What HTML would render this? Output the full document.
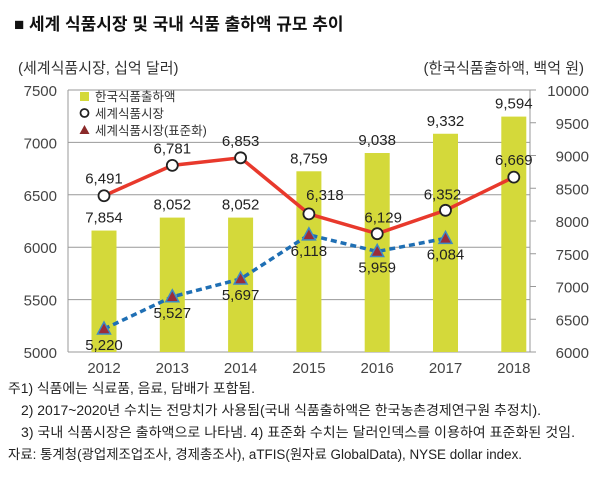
<!DOCTYPE html>
<html><head><meta charset="utf-8"><style>
body{margin:0;background:#fff;}
svg{display:block;font-family:"Liberation Sans","Noto Sans CJK KR",sans-serif;}
</style></head><body>
<svg id="c" width="600" height="477" viewBox="0 0 600 477">
<text x="14" y="30" font-size="17" font-weight="bold" fill="#111">■ 세계 식품시장 및 국내 식품 출하액 규모 추이</text>
<text x="18" y="73" font-size="15" fill="#333">(세계식품시장, 십억 달러)</text>
<text x="584" y="73" font-size="15" fill="#333" text-anchor="end">(한국식품출하액, 백억 원)</text>
<g id="grid"></g><g id="bars"></g><g id="lines"></g><g id="labels"></g>
<g>
<rect x="80" y="92" width="9" height="9" fill="#d4d93a"/>
<text x="95" y="101" font-size="12.5" fill="#333">한국식품출하액</text>
<circle cx="84.5" cy="113" r="4" fill="#fff" stroke="#222" stroke-width="1.8"/>
<text x="95" y="118" font-size="12.5" fill="#333">세계식품시장</text>
<polygon points="84.5,125 89.5,134 79.5,134" fill="#8b2a2a"/>
<text x="95" y="135" font-size="12.5" fill="#333">세계식품시장(표준화)</text>
</g>
<g font-size="13.5" fill="#222">
<text x="8" y="393" textLength="247" lengthAdjust="spacingAndGlyphs">주1) 식품에는 식료품, 음료, 담배가 포함됨.</text>
<text x="21" y="415" textLength="520" lengthAdjust="spacingAndGlyphs">2) 2017~2020년 수치는 전망치가 사용됨(국내 식품출하액은 한국농촌경제연구원 추정치).</text>
<text x="21" y="437" textLength="554" lengthAdjust="spacingAndGlyphs">3) 국내 식품시장은 출하액으로 나타냄. 4) 표준화 수치는 달러인덱스를 이용하여 표준화된 것임.</text>
<text x="8" y="459" textLength="514" lengthAdjust="spacingAndGlyphs">자료: 통계청(광업제조업조사, 경제총조사), aTFIS(원자료 GlobalData), NYSE dollar index.</text>
</g>
</svg>
<script>
const years=["2012","2013","2014","2015","2016","2017","2018"];
const koreaShipments=[7854,8052,8052,8759,9038,9332,9594];
const worldMarket=[6491,6781,6853,6318,6129,6352,6669];
const worldStd=[5220,5527,5697,6118,5959,6084];
const leftTicks=[5000,5500,6000,6500,7000,7500];
const rightTicks=[6000,6500,7000,7500,8000,8500,9000,9500,10000];
const NS="http://www.w3.org/2000/svg";
const X0=68,X1=530,Y0=352,Y1=90;
const xS=i=>104+i*68.3;
const yL=v=>Y0-(v-5000)/2500*(Y0-Y1);
const yR=v=>Y0-(v-6000)/4000*(Y0-Y1);
const fmt=v=>v.toLocaleString("en-US");
function mk(tag,attrs,parent,txt){const e=document.createElementNS(NS,tag);for(const k in attrs)e.setAttribute(k,attrs[k]);if(txt!==undefined)e.textContent=txt;document.getElementById(parent).appendChild(e);return e;}
leftTicks.forEach(t=>{
 const l=mk("line",{x1:X0,x2:X1,y1:yL(t),y2:yL(t),stroke:"#999","stroke-width":1},"grid");
 
 
 const tx=mk("text",{x:57,y:yL(t)+6,"font-size":15,fill:"#444","text-anchor":"end"},"grid",t);
 
 
});
const ax=mk("line",{x1:X1,x2:X1,y1:Y1,y2:Y0,stroke:"#999"},"grid");


const axl=mk("line",{x1:X0,x2:X0,y1:Y1,y2:Y0,stroke:"#999"},"grid");


rightTicks.forEach(t=>{
 const l=mk("line",{x1:X1,x2:X1+6,y1:yR(t),y2:yR(t),stroke:"#999"},"grid");
 
 
 const tx=mk("text",{x:589,y:yR(t)+6,"font-size":15,fill:"#444","text-anchor":"end"},"grid",t);
 
 
});
years.forEach((y,i)=>{
 const tx=mk("text",{x:xS(i),y:373,"font-size":15,fill:"#444","text-anchor":"middle"},"labels",y);
 
 
});
koreaShipments.forEach((v,i)=>{
 const b=mk("rect",{x:xS(i)-12.5,y:yR(v),width:25,height:Y0-yR(v),fill:"#d4d93a"},"bars");
 
 
 const t=mk("text",{x:xS(i),y:yR(v)-8,"font-size":15,fill:"#222","text-anchor":"middle"},"labels",fmt(v));
 
 
});
const rl=mk("polyline",{points:worldMarket.map((v,i)=>xS(i)+","+yL(v)).join(" "),fill:"none",stroke:"#e8392c","stroke-width":3.5},"lines");


const bl=mk("polyline",{points:worldStd.map((v,i)=>xS(i)+","+yL(v)).join(" "),fill:"none",stroke:"#1f6fb4","stroke-width":3.5,"stroke-dasharray":"6,4"},"lines");


const rOff=[[0,-12],[0,-12],[0,-12],[16,-14],[6,-11],[-3,-11],[0,-12]];
worldMarket.forEach((v,i)=>{
 const c=mk("circle",{cx:xS(i),cy:yL(v),r:5.5,fill:"#fff",stroke:"#222","stroke-width":1.8},"lines");
 
 
 const t=mk("text",{x:xS(i)+rOff[i][0],y:yL(v)+rOff[i][1],"font-size":15,fill:"#222","text-anchor":"middle"},"labels",fmt(v));
 
 
});
worldStd.forEach((v,i)=>{
 const x=xS(i),y=yL(v);
 const p=mk("polygon",{points:`${x},${y-7} ${x+6.5},${y+5} ${x-6.5},${y+5}`,fill:"#9b2d3a",stroke:"#3d8ac6","stroke-width":1.5},"lines");
 
 
 const t=mk("text",{x:x,y:y+21,"font-size":15,fill:"#222","text-anchor":"middle"},"labels",fmt(v));
 
 
});
</script>
</body></html>
